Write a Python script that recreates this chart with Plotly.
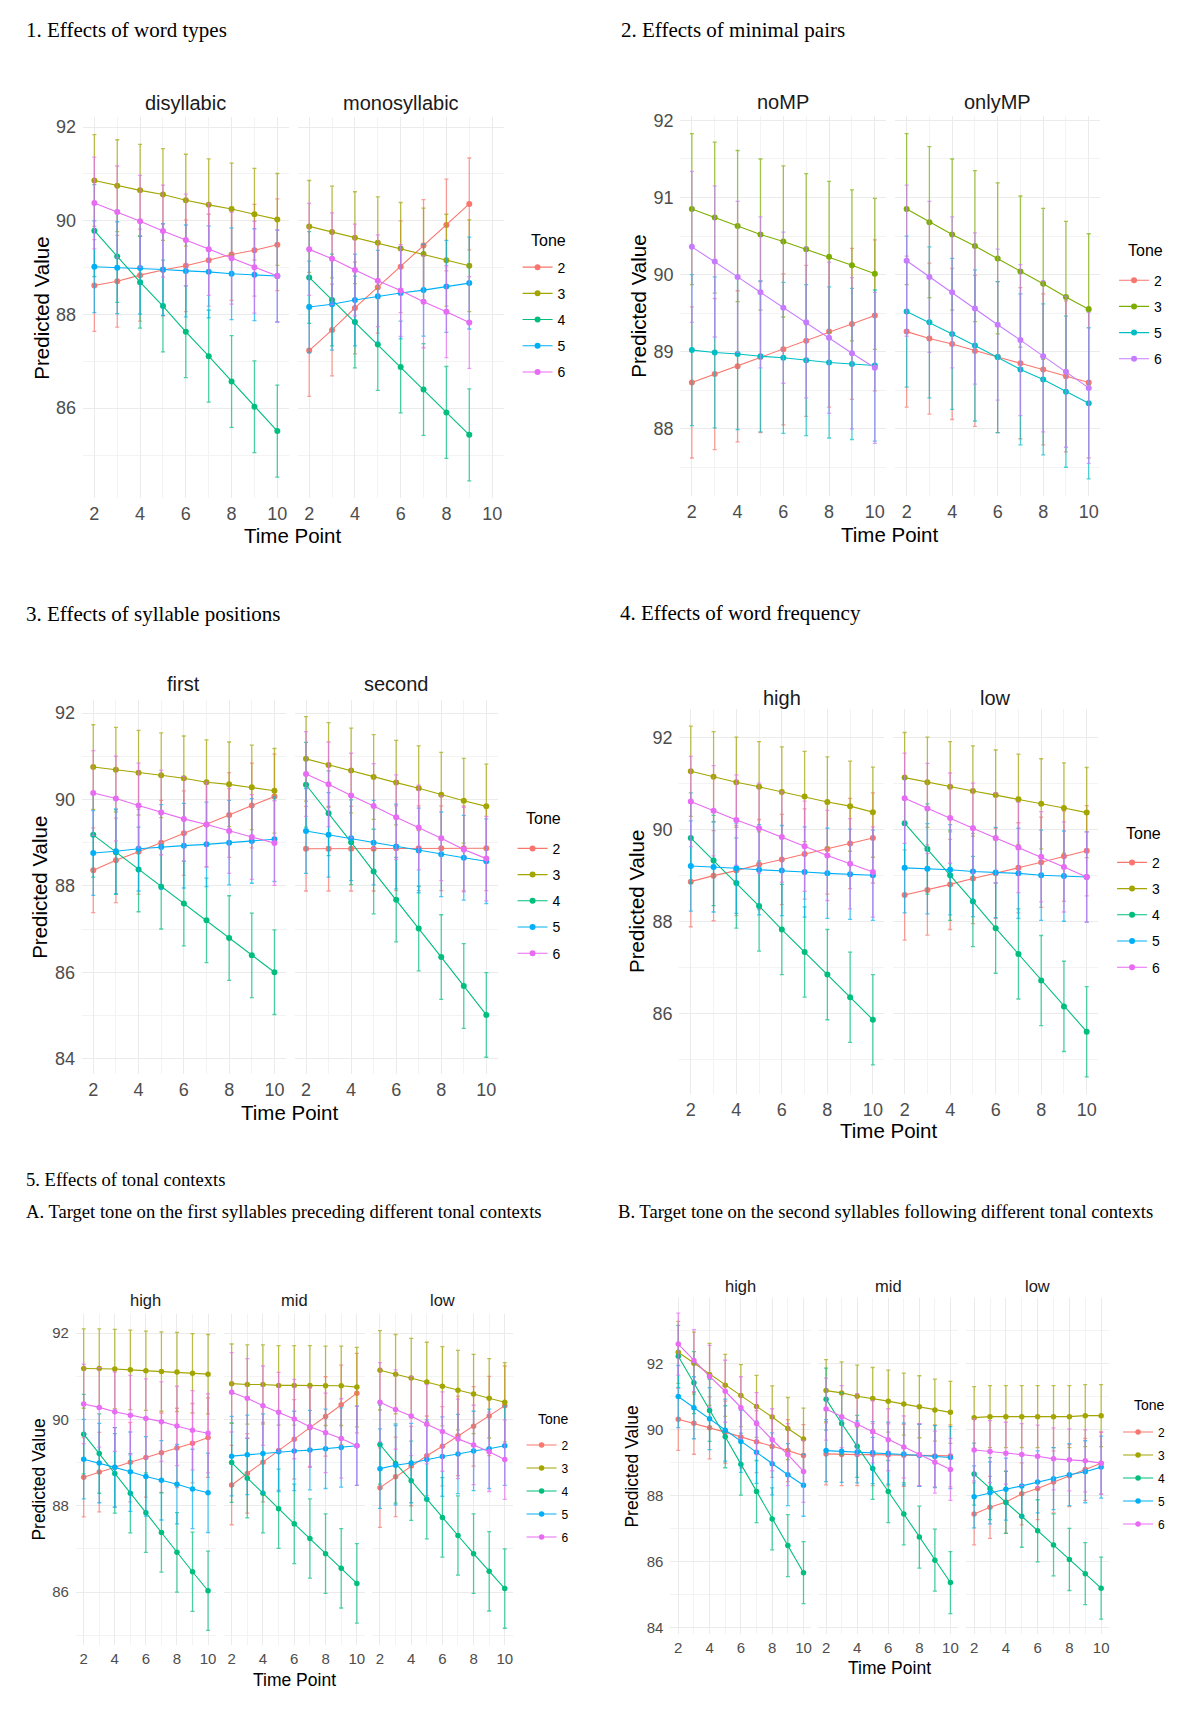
import plotly.graph_objects as go

# ---------------- DATA ----------------
TIME = [2, 3, 4, 5, 6, 7, 8, 9, 10]
TIME_MONO = [2, 3, 4, 5, 6, 7, 8, 9]
X_TICKS = [2, 4, 6, 8, 10]

TONES_5 = ["2", "3", "4", "5", "6"]
TONES_4 = ["2", "3", "5", "6"]
COLORS_5 = ["#F8766D", "#A3A500", "#00BF7D", "#00B0F6", "#E76BF3"]
COLORS_4 = ["#F8766D", "#7CAE00", "#00BFC4", "#C77CFF"]

# 1. word types
WT_DIS_T2 = [88.62, 88.71, 88.84, 88.95, 89.04, 89.16, 89.28, 89.37, 89.49]
WT_DIS_T3 = [90.86, 90.75, 90.65, 90.56, 90.44, 90.34, 90.25, 90.14, 90.03]
WT_DIS_T4 = [89.79, 89.24, 88.69, 88.18, 87.63, 87.11, 86.57, 86.03, 85.51]
WT_DIS_T5 = [89.02, 89.00, 88.99, 88.96, 88.93, 88.91, 88.87, 88.85, 88.82]
WT_DIS_T6 = [90.38, 90.19, 89.99, 89.78, 89.59, 89.39, 89.20, 89.01, 88.82]
WT_MONO_T2 = [87.23, 87.67, 88.14, 88.58, 89.02, 89.47, 89.91, 90.36]
WT_MONO_T3 = [89.88, 89.76, 89.64, 89.53, 89.41, 89.29, 89.16, 89.04]
WT_MONO_T4 = [88.79, 88.31, 87.84, 87.36, 86.88, 86.40, 85.91, 85.43]
WT_MONO_T5 = [88.16, 88.22, 88.31, 88.39, 88.46, 88.52, 88.60, 88.67]
WT_MONO_T6 = [89.39, 89.19, 88.95, 88.72, 88.51, 88.27, 88.06, 87.83]
WT_CI = 0.98

# 2. minimal pairs
MP_NO_T2 = [88.60, 88.71, 88.81, 88.93, 89.03, 89.14, 89.26, 89.36, 89.47]
MP_NO_T3 = [90.85, 90.74, 90.63, 90.52, 90.43, 90.33, 90.23, 90.12, 90.01]
MP_NO_T5 = [89.02, 88.99, 88.97, 88.94, 88.92, 88.89, 88.86, 88.84, 88.82]
MP_NO_T6 = [90.36, 90.17, 89.97, 89.77, 89.57, 89.38, 89.18, 88.98, 88.79]
MP_ONLY_T2 = [89.26, 89.17, 89.10, 89.01, 88.93, 88.85, 88.77, 88.68, 88.60]
MP_ONLY_T3 = [90.85, 90.68, 90.52, 90.37, 90.21, 90.04, 89.88, 89.71, 89.55]
MP_ONLY_T5 = [89.52, 89.38, 89.23, 89.08, 88.93, 88.77, 88.64, 88.48, 88.33]
MP_ONLY_T6 = [90.18, 89.97, 89.77, 89.56, 89.35, 89.15, 88.94, 88.74, 88.53]
MP_CI = 0.98

# 3. syllable positions
SP_FIRST_T2 = [88.36, 88.59, 88.79, 89.00, 89.22, 89.42, 89.64, 89.86, 90.07]
SP_FIRST_T3 = [90.75, 90.69, 90.62, 90.56, 90.49, 90.40, 90.35, 90.28, 90.20]
SP_FIRST_T4 = [89.18, 88.78, 88.38, 87.98, 87.59, 87.20, 86.79, 86.39, 86.00]
SP_FIRST_T5 = [88.76, 88.80, 88.86, 88.90, 88.93, 88.96, 89.00, 89.04, 89.08]
SP_FIRST_T6 = [90.15, 90.02, 89.86, 89.70, 89.55, 89.42, 89.27, 89.13, 88.99]
SP_SECOND_T2 = [88.86, 88.86, 88.86, 88.86, 88.87, 88.87, 88.87, 88.87, 88.87]
SP_SECOND_T3 = [90.94, 90.80, 90.67, 90.52, 90.39, 90.26, 90.11, 89.97, 89.84]
SP_SECOND_T4 = [90.34, 89.68, 89.01, 88.33, 87.68, 87.01, 86.35, 85.68, 85.01]
SP_SECOND_T5 = [89.27, 89.18, 89.10, 89.00, 88.91, 88.82, 88.73, 88.65, 88.57]
SP_SECOND_T6 = [90.59, 90.35, 90.09, 89.85, 89.59, 89.35, 89.10, 88.84, 88.63]
SP_CI = 0.98

# 4. word frequency
WF_HIGH_T2 = [88.87, 89.00, 89.11, 89.24, 89.35, 89.47, 89.58, 89.70, 89.82]
WF_HIGH_T3 = [91.27, 91.15, 91.03, 90.93, 90.82, 90.72, 90.60, 90.51, 90.38]
WF_HIGH_T4 = [89.82, 89.33, 88.84, 88.34, 87.83, 87.34, 86.85, 86.36, 85.87]
WF_HIGH_T5 = [89.21, 89.19, 89.16, 89.13, 89.11, 89.08, 89.05, 89.03, 89.01]
WF_HIGH_T6 = [90.61, 90.41, 90.21, 90.03, 89.84, 89.64, 89.44, 89.26, 89.08]
WF_LOW_T2 = [88.58, 88.69, 88.81, 88.94, 89.05, 89.17, 89.29, 89.42, 89.54]
WF_LOW_T3 = [91.13, 91.03, 90.93, 90.84, 90.75, 90.66, 90.56, 90.47, 90.37]
WF_LOW_T4 = [90.14, 89.58, 89.01, 88.44, 87.86, 87.30, 86.72, 86.16, 85.61]
WF_LOW_T5 = [89.17, 89.15, 89.13, 89.09, 89.07, 89.05, 89.01, 88.99, 88.97]
WF_LOW_T6 = [90.68, 90.46, 90.25, 90.03, 89.82, 89.61, 89.41, 89.19, 88.97]
WF_CI = 0.98

# 5A. first syllables preceding contexts
TA_HIGH_T2 = [88.66, 88.78, 88.89, 89.01, 89.12, 89.23, 89.34, 89.45, 89.58]
TA_HIGH_T3 = [91.18, 91.18, 91.17, 91.15, 91.13, 91.11, 91.10, 91.07, 91.05]
TA_HIGH_T4 = [89.66, 89.21, 88.75, 88.29, 87.84, 87.38, 86.92, 86.47, 86.03]
TA_HIGH_T5 = [89.08, 88.99, 88.89, 88.79, 88.68, 88.59, 88.50, 88.39, 88.30]
TA_HIGH_T6 = [90.36, 90.28, 90.18, 90.10, 90.02, 89.95, 89.85, 89.75, 89.68]
TA_MID_T2 = [88.48, 88.75, 89.01, 89.28, 89.54, 89.81, 90.07, 90.34, 90.61]
TA_MID_T3 = [90.83, 90.81, 90.81, 90.79, 90.79, 90.79, 90.78, 90.78, 90.75]
TA_MID_T4 = [89.00, 88.64, 88.29, 87.93, 87.58, 87.24, 86.89, 86.55, 86.20]
TA_MID_T5 = [89.15, 89.18, 89.21, 89.25, 89.27, 89.29, 89.32, 89.35, 89.39]
TA_MID_T6 = [90.63, 90.49, 90.32, 90.17, 90.01, 89.83, 89.69, 89.56, 89.39]
TA_LOW_T2 = [88.42, 88.67, 88.92, 89.16, 89.38, 89.62, 89.84, 90.08, 90.32]
TA_LOW_T3 = [91.14, 91.05, 90.96, 90.87, 90.77, 90.68, 90.59, 90.49, 90.40]
TA_LOW_T4 = [89.42, 88.98, 88.58, 88.15, 87.73, 87.31, 86.89, 86.48, 86.08]
TA_LOW_T5 = [88.86, 88.94, 88.99, 89.07, 89.14, 89.20, 89.27, 89.32, 89.39]
TA_LOW_T6 = [90.40, 90.23, 90.08, 89.89, 89.72, 89.55, 89.41, 89.25, 89.07]
TA_CI = 0.92

# 5B. second syllables following contexts
TB_HIGH_T2 = [90.31, 90.19, 90.05, 89.92, 89.77, 89.63, 89.49, 89.36, 89.21]
TB_HIGH_T3 = [92.34, 92.01, 91.67, 91.34, 91.03, 90.70, 90.38, 90.03, 89.71]
TB_HIGH_T4 = [92.22, 91.42, 90.58, 89.78, 88.95, 88.12, 87.29, 86.48, 85.66]
TB_HIGH_T5 = [91.00, 90.66, 90.33, 89.98, 89.64, 89.31, 88.96, 88.63, 88.31]
TB_HIGH_T6 = [92.59, 92.09, 91.61, 91.16, 90.66, 90.18, 89.69, 89.24, 88.73]
TB_MID_T2 = [89.26, 89.24, 89.24, 89.24, 89.23, 89.22, 89.22, 89.20, 89.20]
TB_MID_T3 = [91.18, 91.11, 91.01, 90.94, 90.86, 90.77, 90.69, 90.59, 90.52]
TB_MID_T4 = [90.92, 90.18, 89.49, 88.82, 88.12, 87.44, 86.74, 86.04, 85.36]
TB_MID_T5 = [89.36, 89.34, 89.32, 89.30, 89.28, 89.26, 89.22, 89.18, 89.15]
TB_MID_T6 = [90.62, 90.39, 90.15, 89.93, 89.69, 89.47, 89.24, 89.01, 88.79]
TB_LOW_T2 = [87.44, 87.64, 87.80, 88.05, 88.21, 88.41, 88.60, 88.79, 88.98]
TB_LOW_T3 = [90.36, 90.39, 90.39, 90.39, 90.39, 90.39, 90.39, 90.42, 90.42]
TB_LOW_T4 = [88.65, 88.21, 87.79, 87.37, 86.93, 86.50, 86.06, 85.63, 85.19]
TB_LOW_T5 = [87.96, 88.08, 88.19, 88.29, 88.41, 88.51, 88.63, 88.72, 88.86]
TB_LOW_T6 = [89.38, 89.33, 89.28, 89.24, 89.19, 89.11, 89.08, 89.05, 88.98]
TB_CI = 0.94

SECTION_TITLES = [
    "1. Effects of word types",
    "2. Effects of minimal pairs",
    "3. Effects of syllable positions",
    "4. Effects of word frequency",
    "5. Effects of tonal contexts",
    "A. Target tone on the first syllables preceding different tonal contexts",
    "B. Target tone on the second syllables following different tonal contexts",
]

PANELS = [
    dict(tones=TONES_5, colors=COLORS_5, ci=WT_CI, ydtick=2, facets=[
        ("disyllabic", TIME, [WT_DIS_T2, WT_DIS_T3, WT_DIS_T4, WT_DIS_T5, WT_DIS_T6]),
        ("monosyllabic", TIME_MONO, [WT_MONO_T2, WT_MONO_T3, WT_MONO_T4, WT_MONO_T5, WT_MONO_T6])]),
    dict(tones=TONES_4, colors=COLORS_4, ci=MP_CI, ydtick=1, facets=[
        ("noMP", TIME, [MP_NO_T2, MP_NO_T3, MP_NO_T5, MP_NO_T6]),
        ("onlyMP", TIME, [MP_ONLY_T2, MP_ONLY_T3, MP_ONLY_T5, MP_ONLY_T6])]),
    dict(tones=TONES_5, colors=COLORS_5, ci=SP_CI, ydtick=2, facets=[
        ("first", TIME, [SP_FIRST_T2, SP_FIRST_T3, SP_FIRST_T4, SP_FIRST_T5, SP_FIRST_T6]),
        ("second", TIME, [SP_SECOND_T2, SP_SECOND_T3, SP_SECOND_T4, SP_SECOND_T5, SP_SECOND_T6])]),
    dict(tones=TONES_5, colors=COLORS_5, ci=WF_CI, ydtick=2, facets=[
        ("high", TIME, [WF_HIGH_T2, WF_HIGH_T3, WF_HIGH_T4, WF_HIGH_T5, WF_HIGH_T6]),
        ("low", TIME, [WF_LOW_T2, WF_LOW_T3, WF_LOW_T4, WF_LOW_T5, WF_LOW_T6])]),
    dict(tones=TONES_5, colors=COLORS_5, ci=TA_CI, ydtick=2, facets=[
        ("high", TIME, [TA_HIGH_T2, TA_HIGH_T3, TA_HIGH_T4, TA_HIGH_T5, TA_HIGH_T6]),
        ("mid", TIME, [TA_MID_T2, TA_MID_T3, TA_MID_T4, TA_MID_T5, TA_MID_T6]),
        ("low", TIME, [TA_LOW_T2, TA_LOW_T3, TA_LOW_T4, TA_LOW_T5, TA_LOW_T6])]),
    dict(tones=TONES_5, colors=COLORS_5, ci=TB_CI, ydtick=2, facets=[
        ("high", TIME, [TB_HIGH_T2, TB_HIGH_T3, TB_HIGH_T4, TB_HIGH_T5, TB_HIGH_T6]),
        ("mid", TIME, [TB_MID_T2, TB_MID_T3, TB_MID_T4, TB_MID_T5, TB_MID_T6]),
        ("low", TIME, [TB_LOW_T2, TB_LOW_T3, TB_LOW_T4, TB_LOW_T5, TB_LOW_T6])]),
]

# ---------------- GEOMETRY (pixels) ----------------
W, H = 1200, 1719
BIG = dict(strip=20, tick=18, axtitle=20.5, legtitle=16, legfont=14, gap=5, marker=6, item_off=13)
SMALL = dict(strip=16.5, tick=15, axtitle=17.5, legtitle=14, legfont=12, gap=4, marker=5.5, item_off=11.5)
# legend: (key centre x, first item centre y); legend_title: (left x, centre y)
GEOM = [
    dict(facets=[(83, 289), (298, 504)], y=(120, 500), strip_y=106, ytitle_x=42, xtitle_y=537,
         legend=(542, 267), legend_title=(529, 243), s=BIG),
    dict(facets=[(681, 887), (896, 1101)], y=(119, 498), strip_y=105, ytitle_x=639, xtitle_y=536,
         legend=(1139, 280), legend_title=(1127, 253), s=BIG),
    dict(facets=[(82, 286), (295, 498)], y=(701, 1075), strip_y=686, ytitle_x=40, xtitle_y=1113,
         legend=(537, 847), legend_title=(524, 820), s=BIG),
    dict(facets=[(680, 885), (894, 1099)], y=(710, 1095), strip_y=699, ytitle_x=637, xtitle_y=1131,
         legend=(1137, 861), legend_title=(1125, 835), s=BIG),
    dict(facets=[(76, 216), (224, 365), (372.5, 513)], y=(1314, 1645), strip_y=1300, ytitle_x=39,
         xtitle_y=1679, legend=(546, 1442), legend_title=(536, 1419), s=SMALL),
    dict(facets=[(671, 812), (819, 959), (967, 1110)], y=(1298, 1634), strip_y=1286, ytitle_x=633,
         xtitle_y=1667, legend=(1143, 1429), legend_title=(1133, 1405), s=SMALL),
]
TITLE_POS = [(24, 33, 21), (620, 33, 21), (24, 616, 21), (619, 615, 21),
             (24, 1180, 18.6), (24, 1212, 18.6), (617, 1212, 18.6)]

SANS = "Liberation Sans, Arial, sans-serif"
SERIF = "Liberation Serif, Times New Roman, serif"
GRID = "#EBEBEB"
MINOR_GRID = "#F3F3F3"


def fx(px):
    return px / W


def fy(py):
    # small vertical calibration of the measured pixel positions
    py = 1.0062 * py - 9
    return 1 - py / H


def rgba(hx, a):
    hx = hx.lstrip("#")
    return "rgba(%d,%d,%d,%s)" % (int(hx[0:2], 16), int(hx[2:4], 16), int(hx[4:6], 16), a)


fig = go.Figure()
annotations = []
layout_extra = {}
ax_i = 0

for p_idx, (panel, geom) in enumerate(zip(PANELS, GEOM)):
    s = geom["s"]
    all_series = [v for f in panel["facets"] for v in f[2]]
    lo = min(min(v) for v in all_series) - panel["ci"]
    hi = max(max(v) for v in all_series) + panel["ci"]
    pad = 0.05 * (hi - lo)
    yrange = [lo - pad, hi + pad]
    legend_name = "legend" if p_idx == 0 else "legend%d" % (p_idx + 1)
    yt, yb = geom["y"]

    for f_idx, (fname, xs, series) in enumerate(panel["facets"]):
        ax_i += 1
        xa = "x" if ax_i == 1 else "x%d" % ax_i
        ya = "y" if ax_i == 1 else "y%d" % ax_i
        xl, xr = geom["facets"][f_idx]
        layout_extra["xaxis" if ax_i == 1 else "xaxis%d" % ax_i] = dict(
            domain=[fx(xl), fx(xr)], anchor=ya, range=[1.5, 10.5], tickvals=X_TICKS,
            showgrid=True, gridcolor=GRID, gridwidth=1, zeroline=False, showline=False,
            ticks="", tickfont=dict(family=SANS, size=s["tick"], color="#4D4D4D"),
            ticklabelstandoff=3,
            minor=dict(dtick=1, tick0=0, showgrid=True, gridcolor=MINOR_GRID, gridwidth=1),
        )
        layout_extra["yaxis" if ax_i == 1 else "yaxis%d" % ax_i] = dict(
            domain=[fy(yb), fy(yt)], anchor=xa, range=yrange, dtick=panel["ydtick"], tick0=0,
            showgrid=True, gridcolor=GRID, gridwidth=1, zeroline=False, showline=False,
            ticks="", showticklabels=(f_idx == 0),
            tickfont=dict(family=SANS, size=s["tick"], color="#4D4D4D"),
            ticklabelstandoff=6,
            minor=dict(dtick=panel["ydtick"] / 2, tick0=0, showgrid=True,
                       gridcolor=MINOR_GRID, gridwidth=1),
        )
        # strip title
        annotations.append(dict(x=fx((xl + xr) / 2), y=fy(geom["strip_y"]), xref="paper", yref="paper",
                                text=fname, showarrow=False, xanchor="center", yanchor="middle",
                                font=dict(family=SANS, size=s["strip"], color="#1A1A1A")))
        for t_idx, tone in enumerate(panel["tones"]):
            col = panel["colors"][t_idx]
            vals = series[t_idx]
            fig.add_trace(go.Scatter(
                x=xs, y=vals, mode="lines+markers", name=tone,
                xaxis=xa, yaxis=ya, legend=legend_name,
                legendgroup="p%d_t%s" % (p_idx, tone), showlegend=(f_idx == 0),
                line=dict(color=col, width=1.1),
                marker=dict(color=col, size=s["marker"]),
                error_y=dict(type="data", array=[panel["ci"]] * len(vals), visible=True,
                             color=rgba(col, 0.7), thickness=1.3, width=2),
            ))

    # y title
    annotations.append(dict(x=fx(geom["ytitle_x"]), y=fy((yt + yb) / 2), xref="paper", yref="paper",
                            text="Predicted Value", textangle=-90, showarrow=False,
                            xanchor="center", yanchor="middle",
                            font=dict(family=SANS, size=s["axtitle"], color="black")))
    # x title
    x_left = geom["facets"][0][0]
    x_right = geom["facets"][-1][1]
    annotations.append(dict(x=fx((x_left + x_right) / 2), y=fy(geom["xtitle_y"]), xref="paper", yref="paper",
                            text="Time Point", showarrow=False, xanchor="center", yanchor="middle",
                            font=dict(family=SANS, size=s["axtitle"], color="black")))
    # legend title
    tx, ty = geom["legend_title"]
    annotations.append(dict(x=fx(tx), y=fy(ty), xref="paper", yref="paper", text="Tone",
                            showarrow=False, xanchor="left", yanchor="middle",
                            font=dict(family=SANS, size=s["legtitle"], color="black")))
    # legend
    kx, ky = geom["legend"]
    layout_extra[legend_name] = dict(
        x=fx(kx - 24), y=fy(ky - s["item_off"]), xanchor="left", yanchor="top",
        xref="paper", yref="paper",
        font=dict(family=SANS, size=s["legfont"], color="black"),
        traceorder="grouped", tracegroupgap=s["gap"], bgcolor="rgba(0,0,0,0)",
        borderwidth=0, itemwidth=30, itemclick=False, itemdoubleclick=False,
    )

for text, (tx, ty, tsize) in zip(SECTION_TITLES, TITLE_POS):
    annotations.append(dict(x=fx(tx), y=fy(ty), xref="paper", yref="paper", text=text,
                            showarrow=False, xanchor="left", yanchor="middle",
                            font=dict(family=SERIF, size=tsize, color="black")))

fig.update_layout(
    width=W, height=H, autosize=False,
    margin=dict(l=0, r=0, t=0, b=0, pad=0),
    paper_bgcolor="white", plot_bgcolor="white",
    annotations=annotations,
    **layout_extra,
)

fig.write_html("out.html", config={"displayModeBar": False},
               post_script="document.body.style.margin='0px';")
